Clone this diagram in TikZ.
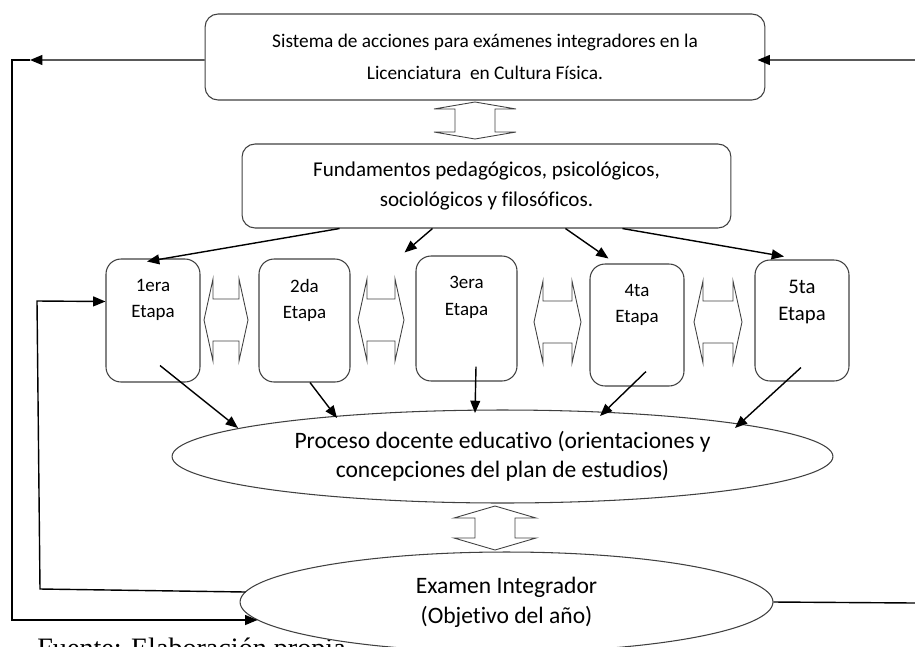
\documentclass[tikz,border=0pt]{standalone}
\usepackage{fontspec}
\setmainfont{Carlito}[Ligatures=NoCommon]
\newfontfamily\fuentefont{Liberation Serif}
\usetikzlibrary{arrows.meta,positioning,shapes.geometric}
% hollow double arrows: centre x, top tip, bottom tip, head / left tip, right tip, centre y, head
\def\vdarrow(#1,#2,#3,#4){\draw[blockarr] (#1,#2) -- ++(41,#4) -- ++(-21,0) -- (#1+20,#3-#4) -- ++(21,0) -- (#1,#3) -- (#1-41,#3-#4) -- ++(21,0) -- (#1-20,#2+#4) -- ++(-21,0) -- cycle;}
\def\hdarrow(#1,#2,#3,#4){\draw[blockarr] (#1,#3) -- (#1+#4,#3-41) -- ++(0,20) -- (#2-#4,#3-21) -- ++(0,-20) -- (#2,#3) -- (#2-#4,#3+41) -- ++(0,-20) -- (#1+#4,#3+21) -- ++(0,20) -- cycle;}

\begin{document}
\begin{tikzpicture}[x=0.02cm, y=-0.02cm,
	box/.style={draw=black!75, line width=0.6pt, rounded corners=0.26cm, inner sep=0, align=center},
	etapa/.style={draw=black!75, line width=0.6pt, rounded corners=0.3cm, inner sep=0},
	etxt/.style={align=center, inner sep=0, font=\fontsize{10.8}{15.3}\selectfont},
	oval/.style={draw=black!75, fill=white, line width=0.6pt, ellipse, inner sep=0, align=center},
	arr/.style={-{Triangle[length=7pt,width=5.6pt]}, line width=0.8pt},
	line/.style={line width=0.8pt},
	blockarr/.style={draw=black!75, line width=0.5pt, line join=miter}]
		\useasboundingbox (0,0) rectangle (915,646);
		%%%%% BOXES %%%%%
		\node[box, minimum width=11.2cm, minimum height=1.72cm, font=\fontsize{11}{18}\selectfont] (sistema) at (485,57) {Sistema de acciones para exámenes integradores en la\\Licenciatura~ en Cultura Física.};
		\node[box, minimum width=9.78cm, minimum height=1.68cm, font=\fontsize{12}{17}\selectfont] (fund) at (486.5,186) {Fundamentos pedagógicos, psicológicos,\\sociológicos y filosóficos.};
		
		\node[etapa, minimum width=1.88cm, minimum height=2.46cm] (e1) at (153,320.5) {};
		\node[etxt, below=0.4cm of e1.north] (t1) {1era\\Etapa};
		\node[etapa, minimum width=1.82cm, minimum height=2.46cm] (e2) at (304.5,320.5) {};
		\node[etxt, below=0.4cm of e2.north] (t2) {2da\\Etapa};
		\node[etapa, minimum width=2.02cm, minimum height=2.5cm] (e3) at (466.5,318.5) {};
		\node[etxt, below=0.4cm of e3.north] (t3) {3era\\Etapa};
		\node[etapa, minimum width=1.88cm, minimum height=2.44cm] (e4) at (637,325) {};
		\node[etxt, below=0.4cm of e4.north] (t4) {4ta\\Etapa};
		\node[etapa, minimum width=1.88cm, minimum height=2.42cm] (e5) at (802,320.5) {};
		\node[etxt, below=0.4cm of e5.north, font=\fontsize{11.8}{15.3}\selectfont] (t5) {5ta\\Etapa};
		
		\node[anchor=base west, inner sep=0, font=\fuentefont\fontsize{16}{19}\selectfont] (fuente) at (37,657) {Fuente: Elaboración propia};
		
		\node[oval, minimum width=13.22cm, minimum height=1.86cm, font=\fontsize{13.4}{16.4}\selectfont] (proc) at (502.5,456.5) {Proceso docente educativo (orientaciones y\\concepciones del plan de estudios)};
		\node[oval, minimum width=10.66cm, minimum height=2cm, font=\fontsize{13.4}{17}\selectfont] (exam) at (506.5,602) {Examen Integrador\\(Objetivo del año)};
		
		%%%%% DOUBLE ARROWS %%%%%
		\vdarrow(475,102,139,7)
		\vdarrow(495,506,550,12)
		\hdarrow(204,248,320,9)
		\hdarrow(358,404,320,9)
		\hdarrow(534,581,322,9)
		\hdarrow(694,742,322,9)
		
		%%%%% ARROWS %%%%%
		\draw[arr] ([xshift=1.96cm]fund.south west) -- ([xshift=-0.12cm,yshift=-0.06cm]e1.north);
		\draw[arr] ([xshift=3.82cm]fund.south west) -- ([xshift=-0.22cm,yshift=0.06cm]e3.north west);
		\draw[arr] ([xshift=6.48cm]fund.south west) -- ([xshift=0.38cm,yshift=0.1cm]e4.north west);
		\draw[arr] ([xshift=7.62cm]fund.south west) -- ([xshift=-0.36cm,yshift=0.06cm]e5.north);
		
		\draw[arr] ([shift={(7,-17)}]e1.south) -- ([shift={(-264.5,-28.5)}]proc.center);
		\draw[arr] ([shift={(5.5,0)}]e2.south) -- ([shift={(-165.5,-38.5)}]proc.center);
		\draw[arr] ([shift={(9.5,-15)}]e3.south) -- ([shift={(-27.5,-43.5)}]proc.center);
		\draw[arr] ([shift={(9,-15)}]e4.south) -- ([shift={(97.5,-40.5)}]proc.center);
		\draw[arr] ([shift={(-1,-14)}]e5.south) -- ([shift={(232.5,-28.5)}]proc.center);
		
		%%%%% SIDE LINES %%%%%
		\coordinate (ltip) at (30,60);
		\coordinate (lt) at (12,60);
		\coordinate (lb) at (12,620);
		\draw[arr] ([yshift=-0.06cm]sistema.west) -- (ltip);
		\draw[arr] (ltip) -- (lt) -- (lb) -- ([shift={(-249,18)}]exam.center);
		
		\coordinate (ib) at (40,589);
		\coordinate (it) at (37,301);
		\draw[arr] ([shift={(-261,-10)}]exam.center) -- (ib) -- (it) -- ([yshift=0.38cm]e1.west);
		
		\coordinate (rt) at (915,60);
		\coordinate (rb) at (915,603);
		\draw[arr] (rt) -- ([xshift=-0.16cm,yshift=-0.06cm]sistema.east);
		\draw[line] (exam.east) -- (rb);
\end{tikzpicture}
\end{document}
